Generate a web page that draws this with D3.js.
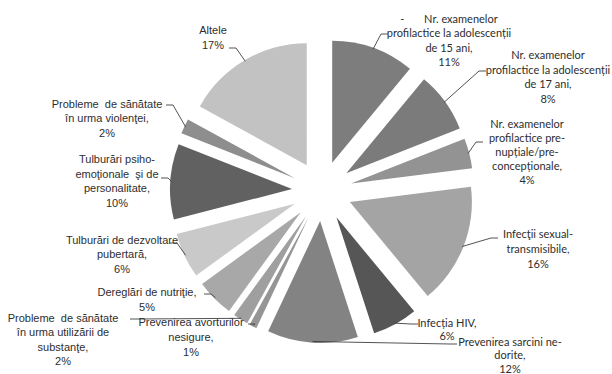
<!DOCTYPE html>
<html>
<head>
<meta charset="utf-8">
<script src="https://cdn.jsdelivr.net/npm/d3@7"></script>
<style>
  html, body { margin: 0; padding: 0; background: #fff; }
  svg { display: block; }
  .lbl { fill: #2e2e2e; font-size: 11px; white-space: pre; }
  .cal { font-family: Lato, "Open Sans", sans-serif; }
  .ari { font-family: "Liberation Sans", Arial, sans-serif; }
  .leader { fill: none; stroke: #404040; stroke-width: 0.9; }
</style>
</head>
<body>
<div id="chart"></div>
<script>
// slices, clockwise from 12 o'clock
let categories = [
  "Nr. examenelor profilactice la adolescenții de 15 ani",
  "Nr. examenelor profilactice la adolescenții de 17 ani",
  "Nr. examenelor profilactice pre-nupțiale/pre-concepționale",
  "Infecţii sexual-transmisibile",
  "Infecția HIV",
  "Prevenirea sarcini ne-dorite",
  "Prevenirea avorturilor nesigure",
  "Probleme de sănătate în urma utilizării de substanţe",
  "Dereglări de nutriţie",
  "Tulburări de dezvoltare pubertară",
  "Tulburări psiho-emoţionale şi de personalitate",
  "Probleme de sănătate în urma violenţei",
  "Altele"
];
let values = [11, 8, 4, 16, 6, 12, 1, 2, 5, 6, 10, 2, 17];

// label text as it is broken into lines
let labelLines = [
  ["-       Nr. examenelor", "profilactice la adolescenții", "de 15 ani,", "11%"],
  ["Nr. examenelor", "profilactice la adolescenții", "de 17 ani,", "8%"],
  ["Nr. examenelor", "profilactice pre-", "nupțiale/pre-", "concepționale,", "4%"],
  ["Infecţii sexual-", "transmisibile,", "16%"],
  ["Infecția HIV,", "6%"],
  ["Prevenirea sarcini ne-", "dorite,", "12%"],
  ["Prevenirea avorturilor", "nesigure,", "1%"],
  ["Probleme  de sănătate", "în urma utilizării de", "substanţe,", "2%"],
  ["Dereglări de nutriţie,", "5%"],
  ["Tulburări de dezvoltare", "pubertară,", "6%"],
  ["Tulburări psiho-", "emoţionale  şi de", "personalitate,", "10%"],
  ["Probleme  de sănătate", "în urma violenţei,", "2%"],
  ["Altele", "17%"]
];

let shades = ["#7d7d7d", "#7b7b7b", "#939393", "#a4a4a4", "#565656", "#838383",
              "#959595", "#9f9f9f", "#a8a8a8", "#c9c9c9", "#616161", "#8e8e8e", "#c2c2c2"];

// layout: label centre x, first line centre y, leader start, font
let labelPos = [
  {x: 449, y: 19, lx: 388, ly: 34, f: "cal", dy: 14.5},
  {x: 548, y: 55, lx: 486, ly: 71, f: "cal", dy: 14.7},
  {x: 527, y: 124, lx: 483, ly: 142, f: "cal", dy: 14},
  {x: 538, y: 234, lx: 498, ly: 238, f: "cal", dy: 15},
  {x: 447, y: 323, lx: 418, ly: 324, f: "cal", dy: 13.5},
  {x: 510, y: 342, lx: 457, ly: 344, f: "cal", dy: 13.5},
  {x: 191, y: 322, lx: 248, ly: 324, f: "ari", dy: 15},
  {x: 63, y: 318, lx: 130, ly: 319, f: "ari", dy: 14.4},
  {x: 147, y: 292, lx: 204, ly: 294, f: "ari", dy: 15},
  {x: 122, y: 240, lx: 170, ly: 243, f: "ari", dy: 14.5},
  {x: 117, y: 159, lx: 161, ly: 178, f: "ari", dy: 14.7},
  {x: 107, y: 104, lx: 166, ly: 105, f: "ari", dy: 14.5},
  {x: 213, y: 30, lx: 229, ly: 48, f: "ari", dy: 15}
];

let w = 612, h = 374;
let cx = 322, cy = 191, r = 122, explode = 30;

let svg = d3.select("#chart").append("svg")
    .attr("width", w)
    .attr("height", h);

let pie = d3.pie().sort(null).value(d => d);
let arcs = pie(values);

let arc = d3.arc().innerRadius(0).outerRadius(r);
let rim = d3.arc().innerRadius(r).outerRadius(r);

let mid = d => (d.startAngle + d.endAngle) / 2;
let shift = d => [explode * Math.sin(mid(d)), -explode * Math.cos(mid(d))];

let g = svg.append("g").attr("transform", `translate(${cx},${cy})`);

g.selectAll("path.slice")
  .data(arcs)
  .enter().append("path")
    .attr("class", "slice")
    .attr("d", arc)
    .attr("fill", (d, i) => shades[i])
    .attr("transform", d => `translate(${shift(d)[0]},${shift(d)[1]})`);

// leader lines: short horizontal stub, then to the slice rim
svg.selectAll("path.leader")
  .data(arcs)
  .enter().append("path")
    .attr("class", "leader")
    .attr("d", (d, i) => {
      let p = labelPos[i];
      let c = rim.centroid(d);
      let s = shift(d);
      let ex = cx + c[0] * 0.99 + s[0], ey = cy + c[1] * 0.99 + s[1];
      let dir = ex > p.lx ? 1 : -1;
      return d3.line()([[p.lx, p.ly], [p.lx + dir * 7, p.ly], [ex, ey]]);
    });

let labels = svg.selectAll("text.lbl")
  .data(arcs)
  .enter().append("text")
    .attr("class", (d, i) => "lbl " + labelPos[i].f)
    .attr("text-anchor", "middle");

labels.each(function(d, i) {
  let p = labelPos[i];
  d3.select(this).selectAll("tspan")
    .data(labelLines[i])
    .enter().append("tspan")
      .attr("x", p.x)
      .attr("y", (t, j) => p.y + j * p.dy)
      .attr("dy", "0.35em")
      .text(t => t);
});
</script>
</body>
</html>
